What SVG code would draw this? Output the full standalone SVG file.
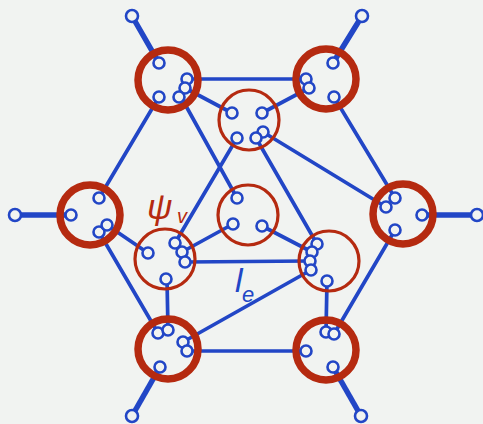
<svg xmlns="http://www.w3.org/2000/svg" width="483" height="424" viewBox="0 0 483 424">
<style>
.e{stroke:#2246c6;stroke-width:3.7;stroke-linecap:round;fill:none}
.lf{stroke:#2246c6;stroke-width:5.5;stroke-linecap:round;fill:none}
.t{fill:#f1f3f1;stroke:#2246c6;stroke-width:2.6}
.ro{fill:none;stroke:#b52a10;stroke-width:7.5}
.ri{fill:none;stroke:#b52a10;stroke-width:3.2}
.lab{font-family:"Liberation Sans",Arial,sans-serif;font-style:italic}
</style>
<rect width="483" height="424" fill="#f1f3f1"/>
<g id="connectors">
<line class="lf" x1="132" y1="16" x2="159" y2="63"/>
<line class="lf" x1="362" y1="16" x2="333" y2="63"/>
<line class="lf" x1="15" y1="215" x2="71" y2="215"/>
<line class="lf" x1="477" y1="215" x2="422" y2="215"/>
<line class="lf" x1="132" y1="416" x2="160" y2="367"/>
<line class="lf" x1="361" y1="416" x2="333" y2="367"/>
<line class="e" x1="187" y1="79" x2="306" y2="79"/>
<line class="e" x1="185" y1="88" x2="232" y2="113"/>
<line class="e" x1="181" y1="97" x2="237" y2="198"/>
<line class="e" x1="159" y1="97" x2="99" y2="198"/>
<line class="e" x1="262" y1="113" x2="309" y2="88"/>
<line class="e" x1="334" y1="97" x2="395" y2="198"/>
<line class="e" x1="263" y1="132" x2="386" y2="207"/>
<line class="e" x1="237" y1="138" x2="175" y2="243"/>
<line class="e" x1="256" y1="138" x2="317" y2="244"/>
<line class="e" x1="107" y1="225" x2="148" y2="253"/>
<line class="e" x1="99" y1="232" x2="158" y2="333"/>
<line class="e" x1="233" y1="224" x2="182" y2="252"/>
<line class="e" x1="262" y1="226" x2="312" y2="252"/>
<line class="e" x1="185" y1="262" x2="310" y2="261"/>
<line class="e" x1="167" y1="279" x2="168" y2="330"/>
<line class="e" x1="183" y1="342" x2="311" y2="270"/>
<line class="e" x1="187" y1="351" x2="306" y2="351"/>
<line class="e" x1="327" y1="281" x2="326" y2="332"/>
<line class="e" x1="334" y1="334" x2="395" y2="230"/>
</g>
<g id="leaves">
<circle class="t" cx="132" cy="16" r="6"/>
<circle class="t" cx="362" cy="16" r="6"/>
<circle class="t" cx="15" cy="215" r="6"/>
<circle class="t" cx="477" cy="215" r="6"/>
<circle class="t" cx="132" cy="416" r="6"/>
<circle class="t" cx="361" cy="416" r="6"/>
</g>
<g id="nodeA">
<circle class="ro" cx="168" cy="80" r="30"/>
<circle class="t" cx="159" cy="63" r="5.5"/>
<circle class="t" cx="159" cy="97" r="5.5"/>
<circle class="t" cx="187" cy="79" r="5.5"/>
<circle class="t" cx="185" cy="88" r="5.5"/>
<circle class="t" cx="179" cy="97" r="5.5"/>
</g>
<g id="nodeB">
<circle class="ro" cx="326" cy="79" r="30"/>
<circle class="t" cx="333" cy="63" r="5.5"/>
<circle class="t" cx="306" cy="79" r="5.5"/>
<circle class="t" cx="309" cy="88" r="5.5"/>
<circle class="t" cx="334" cy="97" r="5.5"/>
</g>
<g id="nodeC">
<circle class="ro" cx="90" cy="215" r="30"/>
<circle class="t" cx="99" cy="198" r="5.5"/>
<circle class="t" cx="71" cy="215" r="5.5"/>
<circle class="t" cx="99" cy="232" r="5.5"/>
<circle class="t" cx="107" cy="225" r="5.5"/>
</g>
<g id="nodeD">
<circle class="ro" cx="403" cy="214" r="30"/>
<circle class="t" cx="395" cy="198" r="5.5"/>
<circle class="t" cx="386" cy="207" r="5.5"/>
<circle class="t" cx="422" cy="215" r="5.5"/>
<circle class="t" cx="395" cy="230" r="5.5"/>
</g>
<g id="nodeE">
<circle class="ro" cx="168" cy="349" r="30"/>
<circle class="t" cx="158" cy="333" r="5.5"/>
<circle class="t" cx="168" cy="330" r="5.5"/>
<circle class="t" cx="183" cy="342" r="5.5"/>
<circle class="t" cx="187" cy="351" r="5.5"/>
<circle class="t" cx="160" cy="367" r="5.5"/>
</g>
<g id="nodeF">
<circle class="ro" cx="326" cy="350" r="30"/>
<circle class="t" cx="326" cy="332" r="5.5"/>
<circle class="t" cx="334" cy="334" r="5.5"/>
<circle class="t" cx="306" cy="351" r="5.5"/>
<circle class="t" cx="333" cy="367" r="5.5"/>
</g>
<g id="nodeG">
<circle class="ri" cx="249" cy="120" r="30"/>
<circle class="t" cx="232" cy="113" r="5.5"/>
<circle class="t" cx="262" cy="113" r="5.5"/>
<circle class="t" cx="237" cy="138" r="5.5"/>
<circle class="t" cx="263" cy="132" r="5.5"/>
<circle class="t" cx="256" cy="138" r="5.5"/>
</g>
<g id="nodeH">
<circle class="ri" cx="248" cy="215" r="30"/>
<circle class="t" cx="237" cy="198" r="5.5"/>
<circle class="t" cx="233" cy="224" r="5.5"/>
<circle class="t" cx="262" cy="226" r="5.5"/>
</g>
<g id="nodeI">
<circle class="ri" cx="165" cy="259" r="30"/>
<circle class="t" cx="148" cy="253" r="5.5"/>
<circle class="t" cx="175" cy="243" r="5.5"/>
<circle class="t" cx="182" cy="252" r="5.5"/>
<circle class="t" cx="185" cy="262" r="5.5"/>
<circle class="t" cx="166" cy="279" r="5.5"/>
</g>
<g id="nodeJ">
<circle class="ri" cx="329" cy="261" r="30"/>
<circle class="t" cx="317" cy="244" r="5.5"/>
<circle class="t" cx="312" cy="252" r="5.5"/>
<circle class="t" cx="310" cy="261" r="5.5"/>
<circle class="t" cx="311" cy="270" r="5.5"/>
<circle class="t" cx="327" cy="281" r="5.5"/>
</g>
<g id="labels">
<text class="lab" x="147" y="219" font-size="35" fill="#b52a10">ψ</text>
<text class="lab" x="177" y="223" font-size="20" fill="#b52a10">v</text>
<text class="lab" x="235" y="292" font-size="34" fill="#2246c6">l</text>
<text class="lab" x="242" y="302" font-size="22" fill="#2246c6">e</text>
</g>
</svg>
